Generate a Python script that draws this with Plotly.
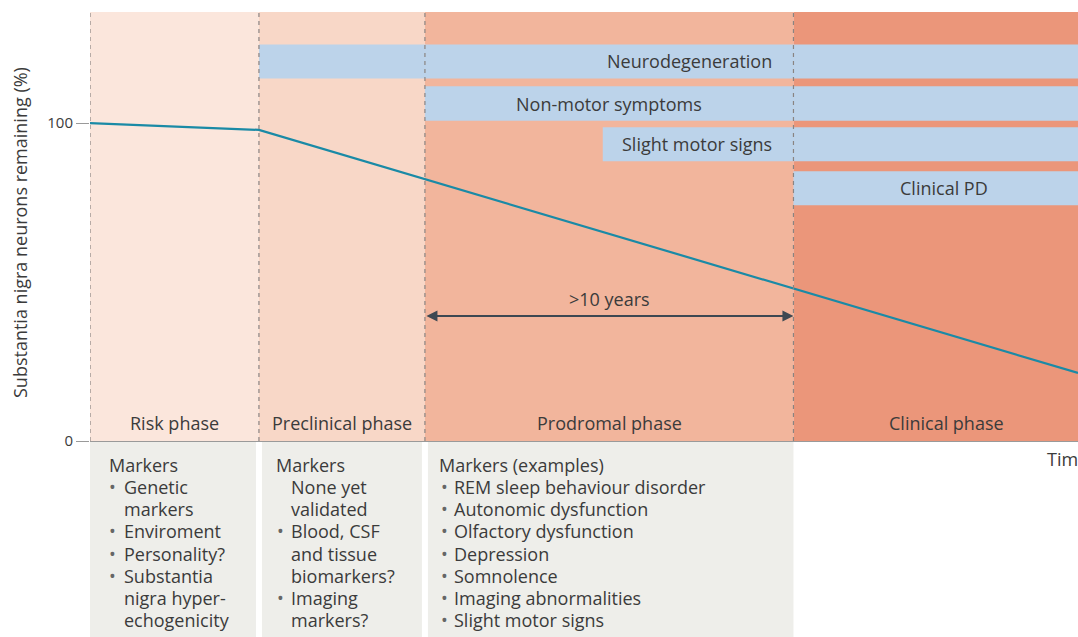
import plotly.graph_objects as go

# ---------------- data ----------------
phase_names = ["Risk phase", "Preclinical phase", "Prodromal phase", "Clinical phase"]
phase_starts = [0.0, 17.1, 33.9, 71.2]
phase_end = 100.0
phase_colors = ["#fbe6dc", "#f8d7c7", "#f2b59c", "#eb967a"]

line_time = [0.0, 17.1, 100.0]
line_pct = [100.0, 97.9, 21.4]

bar_labels = ["Neurodegeneration", "Non-motor symptoms", "Slight motor signs", "Clinical PD"]
bar_start = [17.1, 33.9, 51.9, 71.2]
bar_top = [124.8, 111.6, 98.7, 84.9]
bar_bottom = [114.1, 100.8, 88.0, 74.2]

y_ticks = [0, 100]

marker_headers = ["Markers", "Markers", "Markers (examples)"]
marker_lines = [
    [("•", "Genetic"), ("", "markers"), ("•", "Enviroment"), ("•", "Personality?"),
     ("•", "Substantia"), ("", "nigra hyper-"), ("", "echogenicity")],
    [("", "None yet"), ("", "validated"), ("•", "Blood, CSF"), ("", "and tissue"),
     ("", "biomarkers?"), ("•", "Imaging"), ("", "markers?")],
    [("•", "REM sleep behaviour disorder"), ("•", "Autonomic dysfunction"),
     ("•", "Olfactory dysfunction"), ("•", "Depression"), ("•", "Somnolence"),
     ("•", "Imaging abnormalities"), ("•", "Slight motor signs")],
]

# ---------------- layout constants ----------------
W, H = 1078, 637
ML, MT, MB, MR = 90, 12, 196, 0
YMAX = 135.0
FONT = "Open Sans"
TXT = "#3b3b3b"
FS = 18
plot_w = W - ML - MR
plot_h = H - MT - MB
def px_to_x(px):
    return (px - ML) / plot_w * phase_end
def py_to_paper(py):
    return (H - MB - py) / plot_h

fig = go.Figure()

shapes = []
annotations = []
ends = phase_starts[1:] + [phase_end]
for s, e, c in zip(phase_starts, ends, phase_colors):
    shapes.append(dict(type="rect", xref="x", yref="y", x0=s, x1=e, y0=0, y1=YMAX,
                       fillcolor=c, line_width=0, layer="below"))
for s, t, b in zip(bar_start, bar_top, bar_bottom):
    shapes.append(dict(type="rect", xref="x", yref="y", x0=s, x1=phase_end, y0=b, y1=t,
                       fillcolor="#bcd3ea", line_width=0, layer="below"))
for s in phase_starts:
    shapes.append(dict(type="line", xref="x", yref="y", x0=s, x1=s, y0=0, y1=YMAX,
                       line=dict(color="#8a8482", width=1.2, dash="4px,4px"), layer="above"))
gap = px_to_x(3) - px_to_x(0)
for i in range(3):
    x0 = phase_starts[i] + (gap if i > 0 else 0)
    x1 = ends[i] - (gap if i < 2 else 0)
    shapes.append(dict(type="rect", xref="x", yref="paper", x0=x0, x1=x1,
                       y0=py_to_paper(650), y1=py_to_paper(442),
                       fillcolor="#eeeeea", line_width=0, layer="below"))

fig.add_trace(go.Scatter(x=line_time, y=line_pct, mode="lines",
                         line=dict(color="#1a8aa6", width=2.2), hoverinfo="skip",
                         showlegend=False))

# phase labels
for s, e, n in zip(phase_starts, ends, phase_names):
    cx = (s + e) / 2 if n != "Clinical phase" else px_to_x(946)
    annotations.append(dict(x=cx, y=5.7, xref="x", yref="y", text=n, showarrow=False,
                            font=dict(family=FONT, size=FS, color=TXT)))

# bar labels
bar_label_x = [(px_to_x(774), "right"), ((phase_starts[2] + phase_starts[3]) / 2, "center"),
               (px_to_x(774), "right"), (px_to_x(944), "center")]
for lab, (lx, anc), t, b in zip(bar_labels, bar_label_x, bar_top, bar_bottom):
    annotations.append(dict(x=lx, y=(t + b) / 2, xref="x", yref="y", text=lab,
                            xanchor=anc, showarrow=False,
                            font=dict(family=FONT, size=FS, color=TXT)))

# arrow >10 years
arrow_y = 39.3
annotations.append(dict(x=phase_starts[3], y=arrow_y, ax=phase_starts[2], ay=arrow_y,
                        xref="x", yref="y", axref="x", ayref="y", text="",
                        showarrow=True, arrowhead=2, startarrowhead=2, arrowside="end+start",
                        arrowsize=1.1, startarrowsize=1.1, arrowwidth=2, arrowcolor="#3d4852"))
annotations.append(dict(x=(phase_starts[2] + phase_starts[3]) / 2, y=44.6, xref="x", yref="y",
                        text=">10 years", showarrow=False,
                        font=dict(family=FONT, size=FS, color=TXT)))

# markers text, one annotation per line
head_px = [107, 274, 437]
bullet_px = [107, 275, 439]
text_px = [122, 289, 452]
line0 = 465
dy = 22.15
for i in range(3):
    annotations.append(dict(x=px_to_x(head_px[i]), y=py_to_paper(line0), xref="x", yref="paper",
                            text=marker_headers[i], showarrow=False, xanchor="left",
                            yanchor="middle", font=dict(family=FONT, size=FS, color=TXT)))
    for k, (b, t) in enumerate(marker_lines[i]):
        yy = py_to_paper(line0 + dy * (k + 1))
        if b:
            annotations.append(dict(x=px_to_x(bullet_px[i]), y=yy, xref="x", yref="paper",
                                    text=b, showarrow=False, xanchor="left", yanchor="middle",
                                    font=dict(family=FONT, size=FS, color="#666666")))
        annotations.append(dict(x=px_to_x(text_px[i]), y=yy, xref="x", yref="paper",
                                text=t, showarrow=False, xanchor="left", yanchor="middle",
                                font=dict(family=FONT, size=FS, color=TXT)))

# Time label
annotations.append(dict(x=px_to_x(1045), y=py_to_paper(459), xref="x", yref="paper",
                        text="Time", showarrow=False, xanchor="left", yanchor="middle",
                        font=dict(family=FONT, size=FS, color=TXT)))
# y axis title
annotations.append(dict(x=(20 - ML) / plot_w, y=py_to_paper(233), xref="paper", yref="paper",
                        text="Substantia nigra neurons remaining (%)", textangle=-90,
                        xanchor="center", yanchor="middle",
                        showarrow=False, font=dict(family=FONT, size=18, color=TXT)))

fig.update_layout(
    width=W, height=H, margin=dict(l=ML, r=MR, t=MT, b=MB),
    paper_bgcolor="white", plot_bgcolor="white",
    shapes=shapes, annotations=annotations, showlegend=False,
    xaxis=dict(range=[0, phase_end], showgrid=False, zeroline=False, showticklabels=False,
               showline=True, linecolor="#9a9a9a", linewidth=1.2, ticks=""),
    yaxis=dict(range=[0, YMAX], showgrid=False, zeroline=False, tickvals=y_ticks,
               ticks="outside", ticklen=13, tickcolor="#9a9a9a", tickwidth=1.2,
               tickfont=dict(family=FONT, size=15, color=TXT), showline=False),
)
fig.write_html(
    "out.html",
    config={"displayModeBar": False},
    post_script="document.body.style.margin='0';document.body.style.overflow='hidden';"
                "document.documentElement.style.overflow='hidden';",
)
